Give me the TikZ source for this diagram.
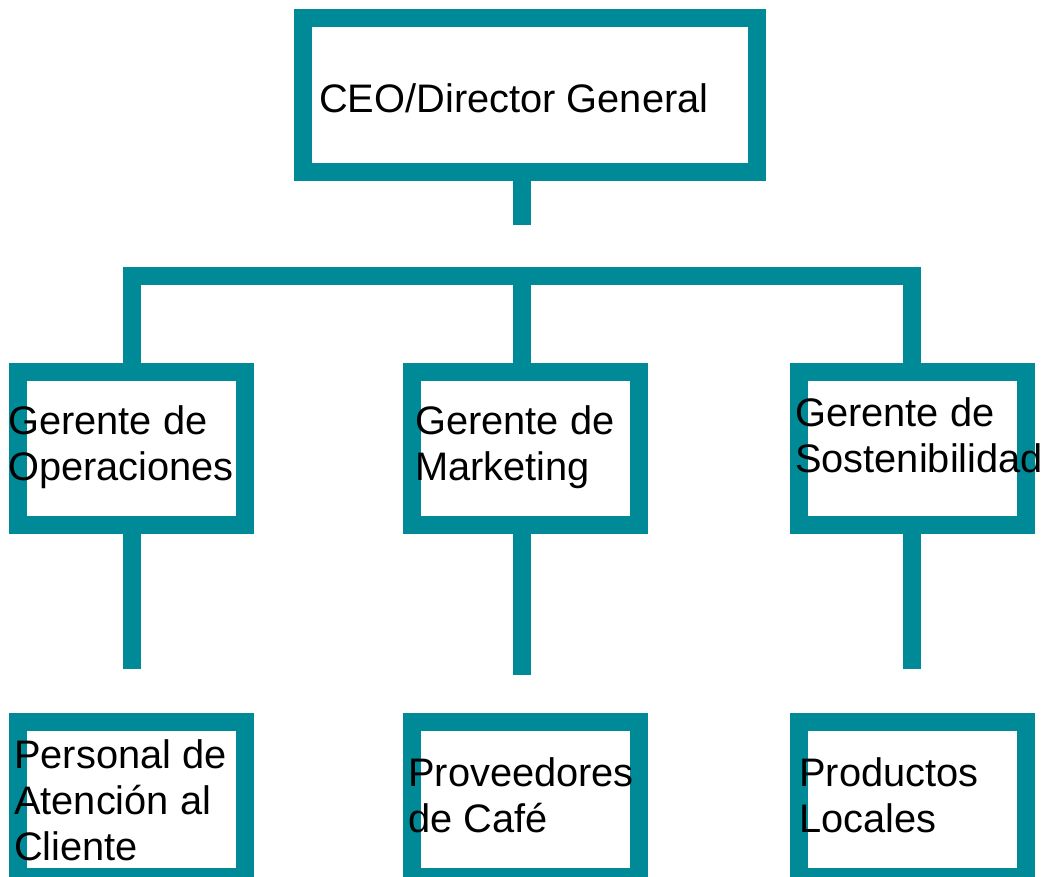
\documentclass[tikz,border=0pt]{standalone}
\usepackage{fontspec}
\setmainfont{Liberation Sans}
\definecolor{verdeazul}{RGB}{0,137,150}
\begin{document}
\begin{tikzpicture}[x=1pt,y=-1pt,
    caja/.style={draw=verdeazul,line width=18pt,inner sep=0pt,minimum width=227pt,minimum height=153pt},
    rama/.style={draw=verdeazul,line width=18pt},
    texto/.style={anchor=base west,align=left,inner sep=0pt,font=\fontsize{39.8}{46}\selectfont}]
    \useasboundingbox (0,0) rectangle (1047,877);
    \clip (0,0) rectangle (1047,877);
    % cajas
    \node[caja,minimum width=454pt,minimum height=154pt] (ceo) at (529.5,95) {};
    \node[caja] (ope) at (131.5,448.5) {};
    \node[caja] (mar) at (525,448.5) {};
    \node[caja] (sos) at (912,448.5) {};
    \node[caja,minimum height=155pt] (per) at (131.5,799.5) {};
    \node[caja,minimum height=155pt] (pro) at (525,799.5) {};
    \node[caja,minimum height=155pt] (loc) at (912,799.5) {};
    % conectores
    \draw[rama] ([xshift=-8pt]ceo.south) -- ++(0,44);
    \draw[rama] (ope.north) -- ++(0,-86.5) coordinate (barra) -| (sos.north);
    \draw[rama] ([xshift=-3pt]mar.north) -- ([xshift=-3pt]mar.north |- barra);
    \draw[rama] (ope.south) -- ++(0,135);
    \draw[rama] ([xshift=-3pt]mar.south) -- ++(0,141);
    \draw[rama] (sos.south) -- ++(0,135);
    % textos (base = ultima linea)
    \node[texto] (tceo) at (319,113) {CEO/Director General};
    \node[texto] (tope) at (8,480) {Gerente de\\Operaciones};
    \node[texto] (tmar) at (415,480) {Gerente de\\Marketing};
    \node[texto] (tsos) at (795,472) {Gerente de\\Sostenibilidad};
    \node[texto] (tper) at (14,860) {Personal de\\Atención al\\Cliente};
    \node[texto] (tpro) at (408,832) {Proveedores\\de Café};
    \node[texto] (tloc) at (799,832) {Productos\\Locales};
\end{tikzpicture}
\end{document}
